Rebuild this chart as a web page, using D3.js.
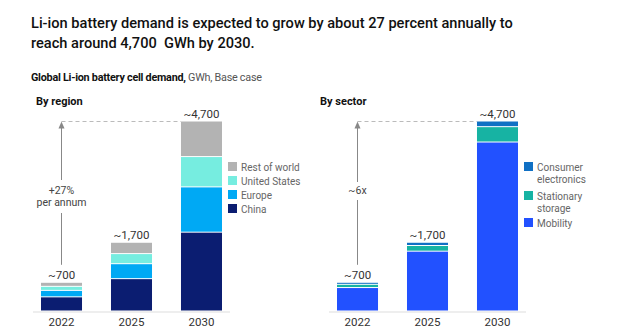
<!DOCTYPE html>
<html>
<head>
<meta charset="utf-8">
<script src="https://cdn.jsdelivr.net/npm/d3@7"></script>
<style>
	body { margin: 0; background: #fff; }
	svg { display: block; font-family: Roboto, "Liberation Sans", Arial, sans-serif; }
	.pre { white-space: pre; }
</style>
</head>
<body>
<div id="chart"></div>
<script>
// chart data (GWh)
const years = ["2022", "2025", "2030"];
const totalLabels = ["~700", "~1,700", "~4,700"];

const regionKeys = ["China", "Europe", "United States", "Rest of world"];
const china = [350, 800, 1950];
const europe = [160, 370, 1120];
const unitedStates = [100, 250, 750];
const restOfWorld = [100, 280, 880];

const sectorKeys = ["Mobility", "Stationary storage", "Consumer electronics"];
const mobility = [580, 1480, 4180];
const stationary = [80, 140, 380];
const consumer = [50, 80, 140];

// build row tables for d3.stack
const regionRows = years.map((yr, i) => ({
	year: yr, "China": china[i], "Europe": europe[i],
	"United States": unitedStates[i], "Rest of world": restOfWorld[i]
}));
const sectorRows = years.map((yr, i) => ({
	year: yr, "Mobility": mobility[i], "Stationary storage": stationary[i],
	"Consumer electronics": consumer[i]
}));

const width = 619, height = 336;

const svg = d3.select("#chart").append("svg")
	.attr("width", width)
	.attr("height", height);

// headline
const title = svg.append("text")
	.attr("class", "pre")
	.attr("x", 31)
	.attr("y", 28)
	.attr("fill", "#111")
	.attr("font-size", 14.6)
	.attr("font-weight", 500);
title.append("tspan").attr("x", 31).text("Li-ion battery demand is expected to grow by about 27 percent annually to");
title.append("tspan").attr("x", 31).attr("dy", 20).text("reach around 4,700  GWh by 2030.");

const sub = svg.append("text")
	.attr("x", 31)
	.attr("y", 81)
	.attr("font-size", 10.8)
	.attr("letter-spacing", -0.25)
	.attr("fill", "#111");
sub.append("tspan").attr("font-weight", 700).text("Global Li-ion battery cell demand,");
sub.append("tspan").attr("fill", "#555").text(" GWh, Base case");

const y = d3.scaleLinear()
	.domain([0, 4700])
	.range([311.5, 121.5]);

// one stacked-bar panel
function drawPanel(cfg) {
	const g = svg.append("g");

	const x = d3.scaleBand()
		.domain(years)
		.range(cfg.range)
		.paddingInner(0.414)
		.paddingOuter(0);

	g.append("text")
		.attr("x", cfg.titleX)
		.attr("y", 105)
		.attr("font-size", 11)
		.attr("font-weight", 700)
		.attr("fill", "#111")
		.text(cfg.title);

	const series = d3.stack().keys(cfg.keys)(cfg.rows);
	const totals = cfg.rows.map(r => d3.sum(cfg.keys, k => r[k]));

	// bar segments
	g.selectAll("g.layer")
		.data(series)
		.join("g")
		.attr("class", "layer")
		.attr("fill", d => cfg.colors[d.key])
		.selectAll("rect")
		.data(d => d)
		.join("rect")
		.attr("x", d => x(d.data.year))
		.attr("width", x.bandwidth())
		.attr("y", d => y(d[1]))
		.attr("height", d => Math.max(0, y(d[0]) - y(d[1]) - 1));

	// baseline
	g.append("line")
		.attr("x1", cfg.range[0] - 8)
		.attr("x2", cfg.range[1] + 8)
		.attr("y1", y(0) + 0.5)
		.attr("y2", y(0) + 0.5)
		.attr("stroke", "#ddd");

	// year labels
	const xAxis = d3.axisBottom(x).tickSize(0).tickPadding(6);
	const ax = g.append("g")
		.attr("transform", "translate(0," + y(0) + ")")
		.call(xAxis);
	ax.select(".domain").remove();
	ax.selectAll("text")
		.attr("font-size", 11.5)
		.attr("font-family", "Roboto, Arial, sans-serif")
		.attr("fill", "#333");

	// totals above bars
	g.selectAll("text.total")
		.data(years)
		.join("text")
		.attr("class", "total")
		.attr("x", d => x(d) + x.bandwidth() / 2)
		.attr("y", (d, i) => y(totals[i]) - 4)
		.attr("text-anchor", "middle")
		.attr("font-size", 11.5)
		.attr("fill", "#333")
		.text((d, i) => totalLabels[i]);

	// growth arrow from the first bar up to the last total
	const ax0 = x(years[0]) + x.bandwidth() / 2;
	const top = y(totals[totals.length - 1]);
	g.append("line")
		.attr("x1", ax0).attr("x2", x(years[years.length - 1]))
		.attr("y1", top).attr("y2", top)
		.attr("stroke", "#bbb")
		.attr("stroke-dasharray", "4,3");
	// lower part, below the label
	g.append("line")
		.attr("x1", ax0).attr("x2", ax0)
		.attr("y1", y(totals[0]) - 18).attr("y2", cfg.gap[1])
		.attr("stroke", "#888");
	// upper part, above the label
	g.append("line")
		.attr("x1", ax0).attr("x2", ax0)
		.attr("y1", cfg.gap[0]).attr("y2", top + 4)
		.attr("stroke", "#888");
	g.append("path")
		.attr("d", `M${ax0 - 3},${top + 7}L${ax0},${top}L${ax0 + 3},${top + 7}Z`)
		.attr("fill", "#888");
	cfg.arrowText.forEach((t, i) => {
		g.append("text")
			.attr("x", ax0)
			.attr("y", cfg.arrowTextY + i * 12)
			.attr("text-anchor", "middle")
			.attr("font-size", 10.5)
			.attr("fill", "#444")
			.text(t);
	});

	// legend, top entry first
	const leg = g.selectAll("g.legend")
		.data(cfg.legend)
		.join("g")
		.attr("class", "legend")
		.attr("transform", d => "translate(" + cfg.legendX + "," + d.y + ")");
	leg.append("rect")
		.attr("x", 0).attr("y", -5)
		.attr("width", 9).attr("height", 9)
		.attr("fill", d => cfg.colors[d.key]);
	leg.each(function (d) {
		const t = d3.select(this).append("text")
			.attr("x", 13)
			.attr("y", 4)
			.attr("font-size", 10)
			.attr("fill", "#666");
		d.lines.forEach((l, i) => {
			t.append("tspan").attr("x", 13).attr("dy", i ? 12 : 0).text(l);
		});
	});
}

drawPanel({
	title: "By region",
	titleX: 36,
	range: [41, 222],
	keys: regionKeys,
	rows: regionRows,
	colors: {
		"China": "#0b1d71",
		"Europe": "#00a9f4",
		"United States": "#76ede0",
		"Rest of world": "#b3b3b3"
	},
	gap: [180, 213],
	arrowText: ["+27%", "per annum"],
	arrowTextY: 194,
	legendX: 228,
	legend: [
		{key: "Rest of world", lines: ["Rest of world"], y: 167},
		{key: "United States", lines: ["United States"], y: 181},
		{key: "Europe", lines: ["Europe"], y: 195},
		{key: "China", lines: ["China"], y: 209}
	]
});

drawPanel({
	title: "By sector",
	titleX: 320,
	range: [337, 518],
	keys: sectorKeys,
	rows: sectorRows,
	colors: {
		"Mobility": "#2251ff",
		"Stationary storage": "#17b3a3",
		"Consumer electronics": "#1070c4"
	},
	gap: [182, 200],
	arrowText: ["~6x"],
	arrowTextY: 194,
	legendX: 524,
	legend: [
		{key: "Consumer electronics", lines: ["Consumer", "electronics"], y: 167},
		{key: "Stationary storage", lines: ["Stationary", "storage"], y: 196},
		{key: "Mobility", lines: ["Mobility"], y: 223}
	]
});
</script>
</body>
</html>
